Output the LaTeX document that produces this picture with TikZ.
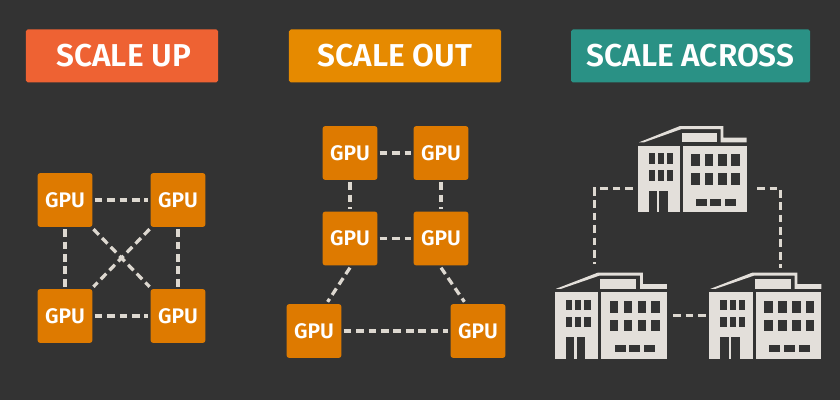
\documentclass[tikz,border=0pt]{standalone}
\usepackage{fontspec}
\setmainfont{Fira Sans}[BoldFont={Fira Sans SemiBold}]
\usepackage{xcolor}
\usetikzlibrary{positioning}

\definecolor{bgdark}{HTML}{333333}
\definecolor{gpuorange}{HTML}{DE7A00}
\definecolor{upred}{HTML}{EE6233}
\definecolor{outorange}{HTML}{E68A00}
\definecolor{acrossteal}{HTML}{2A9185}
\definecolor{linkgrey}{HTML}{DDD8D0}
\definecolor{wallgrey}{HTML}{E3DFDA}

\tikzset{
    % building drawn in units of a third of a pixel, centred on its node
    building/.pic={
        \begin{scope}[scale=0.3333, shift={(-216,-162)}]
            \fill [wallgrey] (53,92) rectangle (181,292);
            \fill [wallgrey] (189,92) rectangle (380,292);
            \fill [wallgrey] (57,82) -- (180,33) -- (310,33) -- (310,68) -- (380,68) -- (380,82)
                -- (302,82) -- (302,42) -- (185,42) -- (72,82) -- cycle;
            \fill [wallgrey] (186,53) rectangle (291,82);
            \foreach \wy in {114,166}
                \foreach \wx in {86,113,140}
                    \fill [bgdark] (\wx,\wy) rectangle ++(18,32);
            \fill [bgdark] (86,227) rectangle (110,292);
            \fill [bgdark] (118,227) rectangle (143,292);
            \foreach \wy in {118,174}
                \foreach \wx in {214,254,295,334}
                    \fill [bgdark] (\wx,\wy) rectangle ++(25,35);
            \foreach \wx in {228,270,314}
                \fill [bgdark] (\wx,251) rectangle ++(33,22);
        \end{scope}
    }
}

\begin{document}
\begin{tikzpicture}[x=0.03cm, y=-0.03cm,
    title/.style={rectangle, rounded corners=1.5pt, minimum height=1.59cm, text=white, font=\fontsize{27}{30}\selectfont\bfseries},
    gpu/.style={rectangle, rounded corners=2pt, fill=gpuorange, minimum width=1.64cm, minimum height=1.61cm, inner sep=0pt, outer sep=2pt, text=white, font=\fontsize{18}{20}\selectfont\bfseries},
    site/.style={rectangle, minimum width=3.4cm, minimum height=2.58cm, inner sep=0pt},
    link/.style={draw=linkgrey, line width=2.8pt, dash pattern=on 6.6pt off 4pt}]

    \fill [bgdark] (0,0) rectangle (840,400);

    % Titles
    \node [title, fill=upred, minimum width=5.76cm] (up) at (122,56) {\hspace{3pt}SCALE UP};
    \node [title, fill=outorange, minimum width=6.36cm] (out) at (395,56) {SCALE OUT};
    \node [title, fill=acrossteal, minimum width=7.17cm] (across) at (690.5,56) {SCALE ACROSS};

    % Scale up
    \node [gpu] (a1) at (65,200) {GPU};
    \node [gpu] (a2) at (178,200) {GPU};
    \node [gpu] (a3) at (65,316) {GPU};
    \node [gpu] (a4) at (178,316) {GPU};

    % Scale out
    \node [gpu] (b1) at (350,153) {GPU};
    \node [gpu] (b2) at (441,153) {GPU};
    \node [gpu] (b3) at (350,238.5) {GPU};
    \node [gpu] (b4) at (441,238.5) {GPU};
    \node [gpu] (b5) at (314,331) {GPU};
    \node [gpu] (b6) at (478,331) {GPU};

    % Scale across
    \node [site] (hq) at (692,169) {};
    \node [site] (sw) at (610.5,315.5) {};
    \node [site] (se) at (765,315.5) {};
    \pic at (hq) {building};
    \pic [xscale=1.03] at (sw) {building};
    \pic [xscale=1.03] at (se) {building};

    % Links
    \draw [link] (a1) -- (a2);
    \draw [link] (a3) -- (a4);
    \draw [link] (a1) -- (a3);
    \draw [link] (a2) -- (a4);
    \draw [link] (a1) -- (a4);
    \draw [link] (a2) -- (a3);

    \draw [link] (b1) -- (b2);
    \draw [link] (b3) -- (b4);
    \draw [link] (b1) -- (b3);
    \draw [link] (b2) -- (b4);
    \draw [link] (b3.south) -- (b5.65);
    \draw [link] (b4.south) -- (b6.115);
    \draw [link] (b5) -- (b6);

    \draw [link, shorten <=2pt, shorten >=7pt] (hq.199) -| (sw.110);
    \draw [link, shorten <=7pt, shorten >=4pt] (hq.-19) -| (se.70);
    \draw [link, shorten <=5pt, shorten >=2pt] (sw) -- (se);
\end{tikzpicture}
\end{document}
